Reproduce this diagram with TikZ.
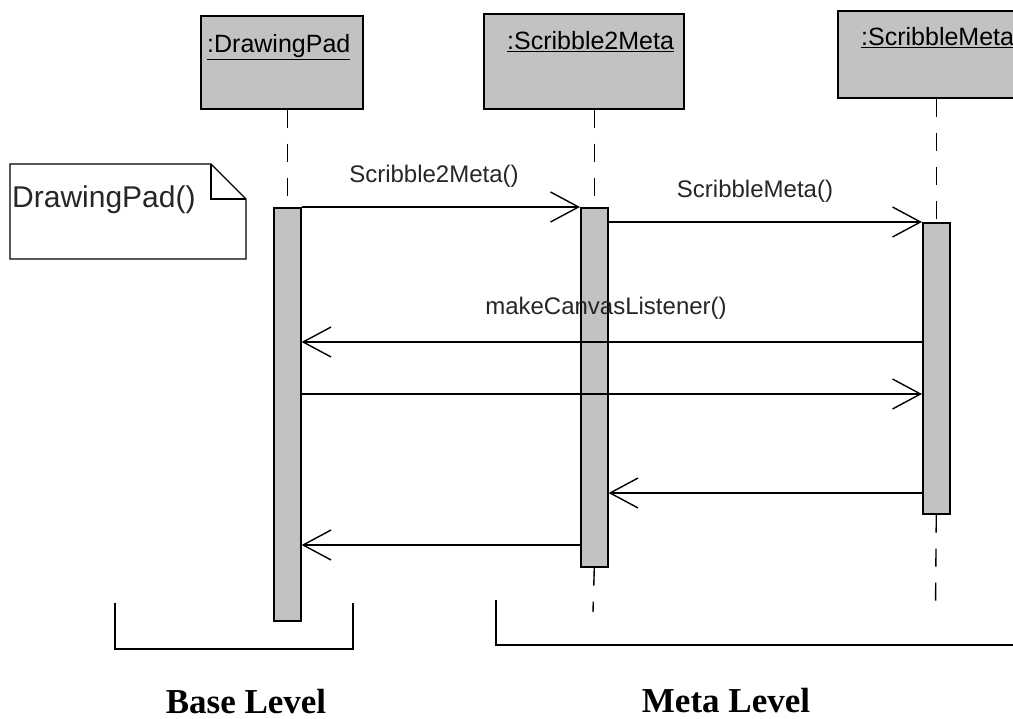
\documentclass[tikz,border=0pt]{standalone}
\usepackage{fontspec}
\setmainfont{Liberation Sans}
\newfontfamily\levelfont{Liberation Serif}
\usetikzlibrary{arrows.meta}
\definecolor{speckle}{gray}{0.76}
\tikzset{
  objbox/.style={draw=black, line width=1.6pt, fill=speckle, inner sep=0pt},
  actbar/.style={draw=black, line width=1.6pt, fill=speckle, inner sep=0pt, minimum width=27pt},
  lifeline/.style={draw=black, line width=1.4pt, dash pattern=on 18pt off 16pt},
  msg/.style={draw=black, line width=1.3pt, -{Straight Barb[length=28pt, width=30pt, line width=1.4pt]}},
  lbl/.style={font=\fontsize{24}{28}\selectfont, inner sep=0pt, text=black!85},
  objlbl/.style={font=\fontsize{25}{30}\selectfont, inner sep=0pt, anchor=base west},
  bracket/.style={draw=black, line width=1.8pt},
  level/.style={font=\levelfont\bfseries\fontsize{35}{40}\selectfont, inner sep=0pt},
}
\begin{document}
\begin{tikzpicture}[x=1pt, y=-1pt]
\useasboundingbox (0,0) rectangle (1013,719);
\begin{scope}
\clip (0,0) rectangle (1013,719);

% object boxes
\node[objbox, anchor=north west, minimum width=162pt, minimum height=93pt] (dpbox) at (200,15) {};
\node[objbox, anchor=north west, minimum width=200pt, minimum height=95pt] (s2box) at (483,13) {};
\node[objbox, anchor=north west, minimum width=200pt, minimum height=87pt] (smbox) at (837,10) {};
\node[objlbl] (dplbl) at (207,53) {\underline{:DrawingPad}};
\node[objlbl] (s2lbl) at (507,50) {\underline{:Scribble2Meta}};
\node[objlbl] (smlbl) at (861,46) {\underline{:ScribbleMeta}};

% activation bars
\node[actbar, anchor=north west, minimum height=413pt] (dpbar) at (273,207) {};
\node[actbar, anchor=north west, minimum height=359pt] (s2bar) at (580,207) {};
\node[actbar, anchor=north west, minimum height=291pt] (smbar) at (922,222) {};

% lifelines
\coordinate (s2end) at (593,612);
\coordinate (smend) at (935.5,612);
\draw[lifeline] (dpbar.north |- dpbox.south) -- (dpbar.north);
\draw[lifeline] (s2bar.north |- s2box.south) -- (s2bar.north);
\draw[lifeline] (smbar.north |- smbox.south) -- (smbar.north);
\draw[lifeline] (s2bar.south) -- (s2end);
\draw[lifeline] (smbar.south) -- (smend);

% message levels
\coordinate (y3) at (0,342);
\coordinate (y4) at (0,394);
\coordinate (y5) at (0,493);
\coordinate (y6) at (0,545);

% messages
\draw[msg] (dpbar.north east) -- (s2bar.north west);
\draw[msg] (s2bar.east |- smbar.north) -- (smbar.north west);
\draw[msg] (smbar.west |- y3) -- (dpbar.east |- y3);
\draw[msg] (dpbar.east |- y4) -- (smbar.west |- y4);
\draw[msg] (smbar.west |- y5) -- (s2bar.east |- y5);
\draw[msg] (s2bar.west |- y6) -- (dpbar.east |- y6);

% message labels
\node[lbl, anchor=base] (l1) at (434,183) {Scribble2Meta()};
\node[lbl, anchor=base] (l2) at (755,198) {ScribbleMeta()};
\node[lbl, anchor=base] (l3) at (606,315) {makeCanvasListener()};

% note
\coordinate (nA) at (10,164);
\coordinate (nB) at (211,164);
\coordinate (nC) at (246,199);
\coordinate (nD) at (246,259);
\coordinate (nE) at (10,259);
\coordinate (nF) at (211,199);
\draw[line width=1.3pt, fill=white] (nA) -- (nB) -- (nC) -- (nD) -- (nE) -- cycle;
\draw[line width=1.1pt] (nB) -- (nF) -- (nC);
\node[font=\fontsize{30}{34}\selectfont, inner sep=0pt, anchor=base west, text=black!85] (notetxt) at (12,208) {DrawingPad()};

% level brackets
\coordinate (b1) at (115,603);
\coordinate (b2) at (115,649);
\coordinate (b3) at (353,649);
\coordinate (b4) at (353,603);
\draw[bracket] (b1) -- (b2) -- (b3) -- (b4);
\coordinate (c1) at (496,600);
\coordinate (c2) at (496,645);
\coordinate (c3) at (1030,645);
\draw[bracket] (c1) -- (c2) -- (c3);

\node[level, anchor=base] (base) at (246,713) {Base Level};
\node[level, anchor=base] (meta) at (726,712) {Meta Level};
\end{scope}
\end{tikzpicture}
\end{document}
